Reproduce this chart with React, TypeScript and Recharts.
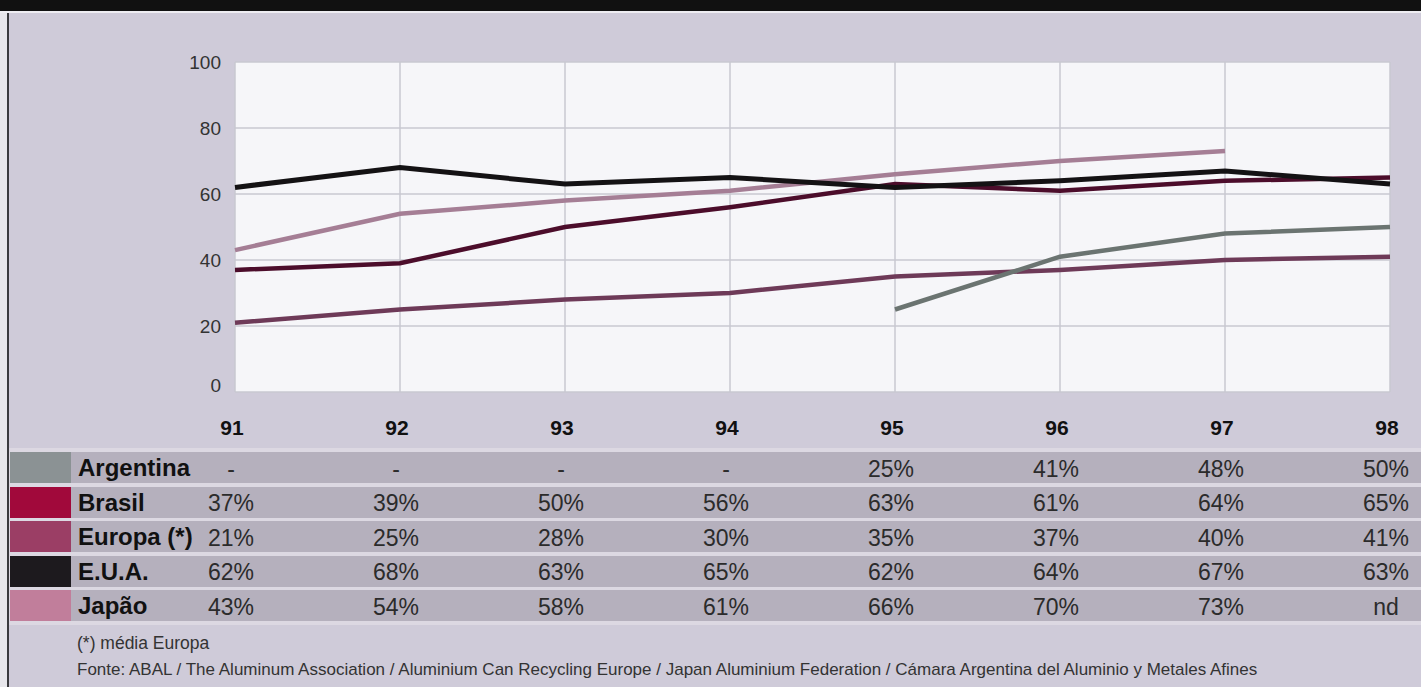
import React from "react";
import { LineChart, Line, XAxis, YAxis, CartesianGrid } from "recharts";

const years = ["91", "92", "93", "94", "95", "96", "97", "98"];
const argentina = [null, null, null, null, 25, 41, 48, 50];
const brasil = [37, 39, 50, 56, 63, 61, 64, 65];
const europa = [21, 25, 28, 30, 35, 37, 40, 41];
const eua = [62, 68, 63, 65, 62, 64, 67, 63];
const japao = [43, 54, 58, 61, 66, 70, 73, null];
const yTicks = [0, 20, 40, 60, 80, 100];

const series = [
  { key: "argentina", name: "Argentina", values: argentina, swatch: "#8b9294", line: "#6b7471", missing: "-" },
  { key: "brasil", name: "Brasil", values: brasil, swatch: "#a1093b", line: "#4c0d2b", missing: "-" },
  { key: "europa", name: "Europa (*)", values: europa, swatch: "#9b3e65", line: "#6e3a58", missing: "-" },
  { key: "eua", name: "E.U.A.", values: eua, swatch: "#1d1a1e", line: "#141214", missing: "-" },
  { key: "japao", name: "Japão", values: japao, swatch: "#c17e9b", line: "#a57e95", missing: "nd" },
];

const data = years.map((year, i) => {
  const row: any = { year };
  series.forEach((s) => (row[s.key] = s.values[i]));
  return row;
});

const ROW_TOP = 452;
const ROW_STEP = 34.5;
const ROW_H = 31;

const YearTick = (props: any) => {
  const { x, payload } = props;
  const i = years.indexOf(payload.value);
  return (
    <g>
      <text x={x - 3} y={427} textAnchor="middle" dominantBaseline="central" fontSize={21} fontWeight="bold" fill="#111">
        {payload.value}
      </text>
      {series.map((s, r) => {
        const v = s.values[i];
        return (
          <text key={s.key} x={x - 4} y={ROW_TOP + r * ROW_STEP + ROW_H / 2 + 1} textAnchor="middle" dominantBaseline="central" fontSize={23} fill="#2b2b2b">
            {v == null ? s.missing : `${v}%`}
          </text>
        );
      })}
    </g>
  );
};

const ValueTick = (props: any) => {
  const { y, payload } = props;
  return (
    <text x={221} y={payload.value === 0 ? y - 7 : y} textAnchor="end" dominantBaseline="central" fontSize={19} fill="#333">
      {payload.value}
    </text>
  );
};

export default function App() {
  return (
    <div
      style={{
        position: "absolute",
        left: 0,
        top: 0,
        width: 1421,
        height: 687,
        background: "#cfcbd9",
        fontFamily: "'Liberation Sans', Arial, sans-serif",
        overflow: "hidden",
      }}
    >
      <div style={{ position: "absolute", left: 0, top: 0, width: 1421, height: 11, background: "#111" }} />
      <div style={{ position: "absolute", left: 0, top: 11, width: 1421, height: 2, background: "#eeedf2" }} />
      <div style={{ position: "absolute", left: 0, top: 13, width: 7, height: 674, background: "#e7e6eb" }} />
      <div style={{ position: "absolute", left: 7, top: 13, width: 2, height: 674, background: "#3a3a3e" }} />
      <div style={{ position: "absolute", left: 9, top: 448, width: 1412, height: 177, background: "#dcd8e2" }} />
      {series.map((s, r) => (
        <React.Fragment key={s.key}>
          <div style={{ position: "absolute", left: 10, top: ROW_TOP + r * ROW_STEP, width: 1411, height: ROW_H, background: "#b5b0bd" }} />
          <div style={{ position: "absolute", left: 10, top: ROW_TOP + r * ROW_STEP, width: 61, height: ROW_H, background: s.swatch }} />
          <div
            style={{
              position: "absolute",
              left: 78,
              top: ROW_TOP + r * ROW_STEP,
              height: ROW_H,
              lineHeight: `${ROW_H}px`,
              fontSize: 24,
              fontWeight: "bold",
              color: "#111",
              whiteSpace: "nowrap",
            }}
          >
            {s.name}
          </div>
        </React.Fragment>
      ))}
      <div style={{ position: "absolute", left: 77, top: 633, fontSize: 17.5, color: "#333" }}>(*) média Europa</div>
      <div style={{ position: "absolute", left: 77, top: 660, fontSize: 17, color: "#333", whiteSpace: "nowrap" }}>
        Fonte: ABAL / The Aluminum Association / Aluminium Can Recycling Europe / Japan Aluminium Federation / Cámara Argentina del Aluminio y Metales Afines
      </div>
      <div style={{ position: "absolute", left: 0, top: 0 }}>
        <LineChart width={1421} height={687} data={data} margin={{ top: 62, left: 175, right: 31, bottom: 265 }}>
          <CartesianGrid fill="#f6f6f9" stroke="#c9c8d1" strokeWidth={1.5} />
          <XAxis dataKey="year" height={30} interval={0} axisLine={false} tickLine={false} tick={YearTick} />
          <YAxis width={60} domain={[0, 100]} ticks={yTicks} axisLine={false} tickLine={false} tick={ValueTick} />
          <Line dataKey="europa" stroke={series[2].line} strokeWidth={4.5} dot={false} isAnimationActive={false} />
          <Line dataKey="japao" stroke={series[4].line} strokeWidth={4.5} dot={false} isAnimationActive={false} />
          <Line dataKey="brasil" stroke={series[1].line} strokeWidth={4.5} dot={false} isAnimationActive={false} />
          <Line dataKey="eua" stroke={series[3].line} strokeWidth={5} dot={false} isAnimationActive={false} />
          <Line dataKey="argentina" stroke={series[0].line} strokeWidth={4.5} dot={false} isAnimationActive={false} />
        </LineChart>
      </div>
    </div>
  );
}
